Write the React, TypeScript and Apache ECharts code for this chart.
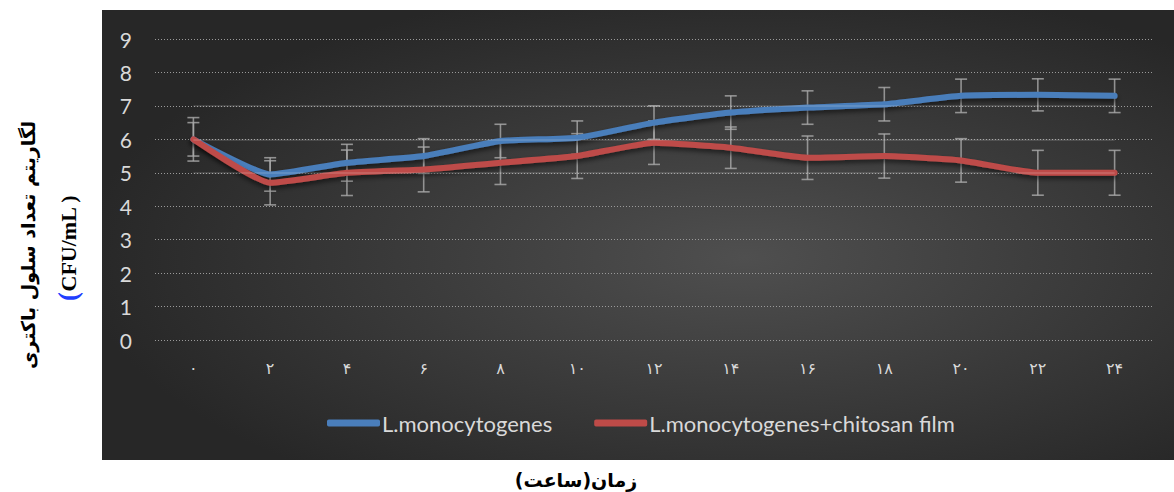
import React, { useEffect, useRef } from "react";
import * as echarts from "echarts";

const categories = ["۰", "۲", "۴", "۶", "۸", "۱۰", "۱۲", "۱۴", "۱۶", "۱۸", "۲۰", "۲۲", "۲۴"];
const seriesNames = ["L.monocytogenes", "L.monocytogenes+chitosan film"];
const blueValues = [6.0, 4.95, 5.3, 5.5, 5.95, 6.05, 6.5, 6.8, 6.95, 7.05, 7.3, 7.33, 7.3];
const redValues = [6.0, 4.7, 5.0, 5.1, 5.3, 5.5, 5.9, 5.75, 5.45, 5.5, 5.37, 5.0, 5.0];
const blueErr = [0.65, 0.5, 0.55, 0.52, 0.5, 0.5, 0.5, 0.5, 0.5, 0.5, 0.5, 0.48, 0.5];
const redErr = [0.5, 0.66, 0.68, 0.67, 0.65, 0.67, 0.65, 0.62, 0.65, 0.66, 0.65, 0.67, 0.67];
const solidLevels = [5, 6, 7];
const yAxisTitle = "لگاریتم تعداد سلول باکتری";
const yAxisUnit = "CFU/mL )";
const xAxisTitle = "زمان(ساعت)";

const BLUE = "#4a7ebb";
const RED = "#be4b48";

function errorSeries(values: number[], errs: number[]) {
  return {
    type: "custom",
    z: 1,
    silent: true,
    data: values.map((v, i) => [i, v - errs[i], v + errs[i]]),
    renderItem: (params: any, api: any) => {
      const x = api.value(0);
      const lo = api.coord([x, api.value(1)]);
      const hi = api.coord([x, api.value(2)]);
      const hw = 6;
      const style = { stroke: "rgba(170,170,170,0.8)", lineWidth: 1.6, fill: "none" };
      return {
        type: "group",
        children: [
          { type: "line", shape: { x1: lo[0], y1: lo[1], x2: hi[0], y2: hi[1] }, style },
          { type: "line", shape: { x1: lo[0] - hw, y1: lo[1], x2: lo[0] + hw, y2: lo[1] }, style },
          { type: "line", shape: { x1: hi[0] - hw, y1: hi[1], x2: hi[0] + hw, y2: hi[1] }, style },
        ],
      };
    },
  };
}

export default function App() {
  const ref = useRef<HTMLDivElement>(null);
  useEffect(() => {
    if (!ref.current) return;
    const chart = echarts.init(ref.current, null, { renderer: "svg" });
    const lineCommon = (color: string) => ({
      type: "line",
      smooth: 0.15,
      symbol: "none",
      z: 3,
      itemStyle: { color },
      lineStyle: {
        color,
        width: 6,
        cap: "round",
        join: "round",
        shadowColor: "rgba(0,0,0,0.55)",
        shadowBlur: 5,
        shadowOffsetY: 3,
      },
    });
    chart.setOption({
      animation: false,
      backgroundColor: "#ffffff",
      grid: { left: 155, right: 21, top: 39, bottom: 152, containLabel: false },
      graphic: [
        {
          type: "rect",
          z: -100,
          silent: true,
          shape: { x: 102, y: 10, width: 1072, height: 450 },
          style: {
            fill: new echarts.graphic.RadialGradient(0.6, 0.55, 0.62, [
              { offset: 0, color: "#4f4f4f" },
              { offset: 1, color: "#272727" },
            ]),
          },
        },
        {
          type: "text",
          x: 28,
          y: 245,
          rotation: Math.PI / 2,
          style: {
            text: yAxisTitle,
            fontFamily: "DejaVu Sans",
            fontWeight: "bold",
            fontSize: 19,
            fill: "#000000",
            align: "center",
            verticalAlign: "middle",
          },
        },
        {
          type: "text",
          x: 68,
          y: 248,
          rotation: Math.PI / 2,
          style: {
            text: "{p|(}{t|" + yAxisUnit + "}",
            align: "center",
            verticalAlign: "middle",
            rich: {
              p: { fontFamily: "Liberation Serif", fontWeight: "bold", fontSize: 27, fill: "#1f3fff", color: "#1f3fff" },
              t: { fontFamily: "Liberation Serif", fontWeight: "bold", fontSize: 22, fill: "#000", color: "#000" },
            },
          },
        },
        {
          type: "text",
          x: 576,
          y: 480,
          style: {
            text: xAxisTitle,
            fontFamily: "DejaVu Sans",
            fontWeight: "bold",
            fontSize: 19,
            fill: "#000000",
            align: "center",
            verticalAlign: "middle",
          },
        },
      ],
      legend: {
        left: 322,
        top: 407,
        icon: "roundRect",
        itemWidth: 53,
        itemHeight: 7,
        itemGap: 42,
        data: seriesNames,
        textStyle: { color: "#d9d9d9", fontSize: 22, fontFamily: "Lato", padding: [0, 0, 0, -3] },
      },
      xAxis: {
        type: "category",
        data: categories,
        boundaryGap: true,
        axisLine: { show: false },
        axisTick: { show: false },
        axisLabel: { color: "#d9d9d9", fontSize: 16, fontFamily: "DejaVu Sans", margin: 20 },
        splitLine: { show: false },
      },
      yAxis: {
        type: "value",
        min: 0,
        max: 9,
        interval: 1,
        axisLine: { show: false },
        axisTick: { show: false },
        axisLabel: { color: "#d9d9d9", fontSize: 21, fontFamily: "Lato", margin: 23 },
        splitLine: { show: true, lineStyle: { color: "#9a9a9a", width: 1, type: [1, 2] } },
      },
      series: [
        errorSeries(blueValues, blueErr),
        errorSeries(redValues, redErr),
        {
          ...lineCommon(BLUE),
          name: seriesNames[0],
          data: blueValues,
          markLine: {
            silent: true,
            symbol: "none",
            label: { show: false },
            lineStyle: { color: "rgba(255,255,255,0.13)", width: 2, type: "solid" },
            data: solidLevels.map((lv) => [
              { coord: [0, lv] },
              { coord: [categories.length - 1, lv] },
            ]),
          },
        },
        { ...lineCommon(RED), name: seriesNames[1], data: redValues },
      ],
    });
    return () => chart.dispose();
  }, []);
  return (
    <div
      ref={ref}
      style={{ position: "fixed", left: 0, top: 0, width: 1174, height: 492 }}
    />
  );
}
